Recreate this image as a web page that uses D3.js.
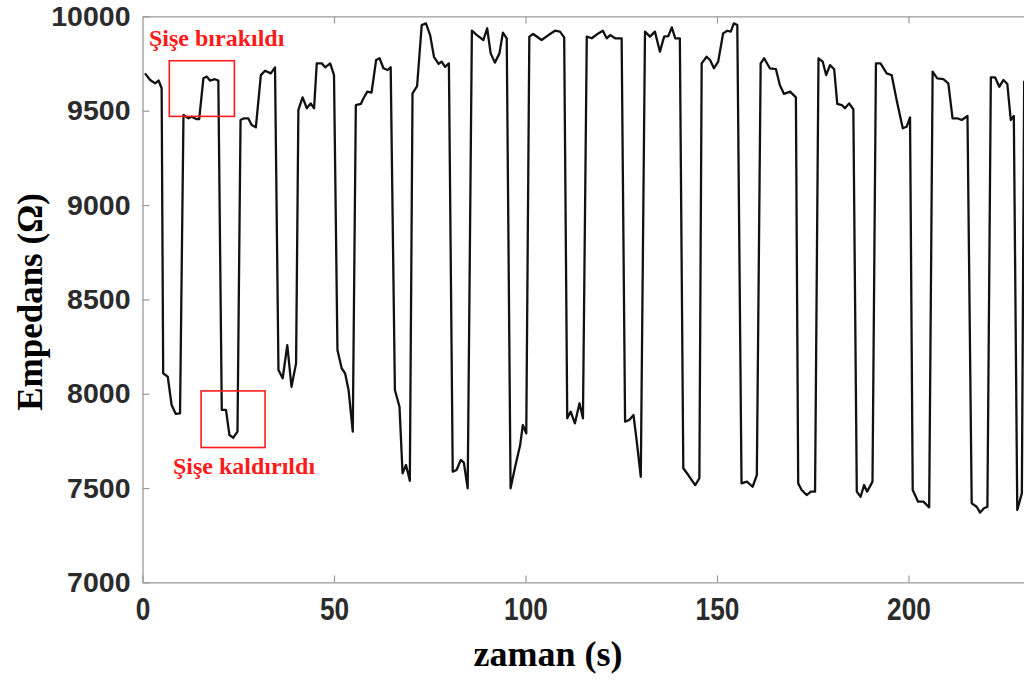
<!DOCTYPE html>
<html>
<head>
<meta charset="utf-8">
<script src="https://cdn.jsdelivr.net/npm/d3@7"></script>
<style>
  html, body { margin: 0; padding: 0; background: #fff; }
  svg { display: block; }
</style>
</head>
<body>
<svg id="chart" width="1024" height="682"></svg>
<script>
// ---- data ----
const time = [0.65, 2.0, 3.3, 4.2, 5.0, 5.4, 6.6, 7.6, 8.7, 9.8, 10.7, 12.0, 12.8, 14.2, 14.8, 15.9, 16.8, 17.6, 18.9, 19.8,
  20.7, 21.8, 22.7, 23.7, 24.8, 25.6, 26.5, 27.6, 28.5, 29.6, 30.9, 32.0, 33.5, 34.6, 35.5, 36.6, 37.8, 38.9, 40.1, 40.7,
  41.8, 42.9, 43.9, 44.8, 45.5, 46.8, 47.7, 49.0, 50.0, 50.9, 52.0, 52.9, 53.8, 54.9, 55.7, 57.0, 57.7, 58.7, 59.8, 61.0,
  61.9, 62.9, 64.0, 64.8, 65.9, 67.1, 67.9, 68.8, 69.8, 70.5, 71.7, 72.9, 74.0, 75.1, 76.1, 77.3, 78.1, 79.0, 80.0, 81.0,
  82.0, 83.1, 83.9, 84.9, 86.0, 87.3, 89.0, 90.0, 90.9, 92.0, 93.2, 94.1, 95.1, 96.1, 97.3, 98.6, 99.3, 100.2, 101.0, 102.0,
  104.2, 106.0, 107.7, 109.0, 110.1, 110.9, 111.8, 112.9, 114.1, 115.0, 116.0, 117.3, 119.0, 120.2, 121.2, 122.1, 123.4, 125.1, 126.0, 127.1,
  128.2, 129.0, 130.1, 131.2, 132.5, 133.8, 135.1, 136.2, 137.3, 138.2, 139.1, 140.3, 141.2, 142.5, 144.3, 145.4, 146.0, 147.3, 148.2, 149.2,
  150.3, 151.6, 152.7, 153.6, 154.4, 155.3, 156.4, 157.8, 159.3, 160.4, 161.4, 162.3, 163.8, 165.4, 166.4, 167.5, 169.1, 170.6, 171.2, 172.1,
  173.4, 174.5, 175.6, 176.5, 177.6, 178.5, 179.5, 180.6, 181.4, 182.6, 183.4, 184.5, 185.6, 186.5, 187.5, 188.4, 189.2, 190.6, 191.5, 192.7,
  194.3, 195.6, 196.9, 198.5, 199.5, 200.4, 201.1, 202.5, 203.9, 205.4, 206.3, 207.5, 209.1, 210.4, 211.5, 212.7, 213.9, 215.4, 216.5, 217.8,
  218.7, 219.7, 220.6, 221.5, 222.6, 223.7, 224.8, 225.8, 226.7, 227.5, 228.4, 229.6, 230.2, 231.0];
const impedance = [9698, 9663, 9645, 9660, 9619, 8108, 8090, 7940, 7893, 7896, 9477, 9460, 9468, 9455, 9455, 9672, 9681, 9660, 9667, 9660,
  7914, 7914, 7781, 7767, 7799, 9451, 9460, 9460, 9424, 9412, 9689, 9712, 9698, 9730, 8126, 8082, 8258, 8037, 8161, 9504,
  9571, 9513, 9539, 9513, 9751, 9751, 9730, 9751, 9689, 8232, 8135, 8108, 8020, 7799, 9530, 9536, 9566, 9601, 9596, 9769,
  9778, 9725, 9716, 9730, 8020, 7931, 7578, 7622, 7539, 9592, 9631, 9954, 9963, 9901, 9786, 9748, 9760, 9733, 9751, 7587,
  7596, 7649, 7635, 7499, 9924, 9901, 9875, 9937, 9804, 9755, 9804, 9914, 9884, 7499, 7613, 7728, 7834, 7790, 9893, 9907,
  9875, 9901, 9924, 9919, 9889, 7870, 7905, 7843, 7949, 7870, 9893, 9884, 9910, 9924, 9884, 9901, 9884, 9884, 7852, 7861,
  7887, 7755, 7560, 9919, 9893, 9919, 9813, 9893, 9896, 9942, 9884, 9884, 7605, 7569, 7516, 7552, 9751, 9786, 9769, 9725,
  9760, 9910, 9924, 9919, 9963, 9954, 7525, 7534, 7507, 7569, 9751, 9778, 9725, 9720, 9636, 9589, 9601, 9571, 7525, 7490,
  7463, 7481, 7481, 9778, 9760, 9689, 9742, 9720, 9536, 9530, 9513, 9539, 9508, 7481, 7454, 7516, 7481, 7534, 9751, 9751,
  9698, 9689, 9557, 9407, 9415, 9465, 7490, 7428, 7428, 7398, 9707, 9672, 9667, 9645, 9460, 9460, 9451, 9472, 7419, 7401,
  7370, 7393, 7401, 9677, 9677, 9627, 9663, 9642, 9451, 9472, 7384, 7473, 9654, 9660];
const xTicks = [0, 50, 100, 150, 200];
const yTicks = [7000, 7500, 8000, 8500, 9000, 9500, 10000];
const xDomain = [0, 250];
const yDomain = [7000, 10000];
const annotationTexts = ["Şişe bırakıldı", "Şişe kaldırıldı"];
const boxT0 = [7.0, 15.3];
const boxT1 = [24.0, 32.0];
const boxV0 = [9470, 7715];
const boxV1 = [9765, 8015];

// ---- layout ----
const svg = d3.select("#chart");
const plotLeft = 142.5, plotTop = 16.4, plotBottom = 582.4, pxPerSec = 3.83;
const x = d3.scaleLinear().domain(xDomain).range([plotLeft, plotLeft + (xDomain[1] - xDomain[0]) * pxPerSec]);
const y = d3.scaleLinear().domain(yDomain).range([plotBottom, plotTop]);
const axisColor = "#9a9a9a";
const labelColor = "#2b2b2b";

// data line
const line = d3.line().x((d, i) => x(time[i])).y(d => y(d));
svg.append("path")
  .datum(impedance)
  .attr("d", line)
  .attr("fill", "none")
  .attr("stroke", "#111")
  .attr("stroke-width", 2.3)
  .attr("stroke-linejoin", "round");

// axes
const gx = svg.append("g").attr("transform", `translate(0,${plotBottom})`)
  .call(d3.axisBottom(x).tickValues(xTicks).tickSizeInner(-7).tickSizeOuter(0).tickPadding(15).tickFormat(d3.format("d")));
const gTop = svg.append("g").attr("transform", `translate(0,${plotTop})`)
  .call(d3.axisTop(x).tickValues(xTicks.filter(d => d > 0)).tickSizeInner(-7).tickSizeOuter(0).tickFormat(""));
const gy = svg.append("g").attr("transform", `translate(${plotLeft},0)`)
  .call(d3.axisLeft(y).tickValues(yTicks).tickSizeInner(-7).tickSizeOuter(0).tickPadding(12).tickFormat(d3.format("d")));

[gx, gTop, gy].forEach(g => {
  g.select(".domain").attr("stroke", axisColor).attr("stroke-width", 1.3);
  g.selectAll(".tick line").attr("stroke", axisColor).attr("stroke-width", 1.2);
});

gx.selectAll(".tick text")
  .attr("fill", labelColor)
  .style("font-family", "'Liberation Sans', Arial, sans-serif")
  .style("font-weight", "bold")
  .style("font-size", "32px")
  .attr("transform", "scale(0.82,1)");

gy.selectAll(".tick text")
  .attr("fill", labelColor)
  .style("font-family", "'Liberation Sans', Arial, sans-serif")
  .style("font-weight", "bold")
  .style("font-size", "28.5px");

// axis titles
svg.append("text")
  .attr("transform", `translate(42,302) rotate(-90)`)
  .attr("text-anchor", "middle")
  .style("font-family", "'Liberation Serif', 'Times New Roman', serif")
  .style("font-weight", "bold")
  .style("font-size", "35px")
  .attr("fill", "#000")
  .text("Empedans (Ω)");

svg.append("text")
  .attr("x", 548).attr("y", 666)
  .attr("text-anchor", "middle")
  .style("font-family", "'Liberation Serif', 'Times New Roman', serif")
  .style("font-weight", "bold")
  .style("font-size", "36px")
  .attr("fill", "#000")
  .text("zaman (s)");

// annotations
boxT0.forEach((t0, i) => {
  svg.append("rect")
    .attr("x", x(t0)).attr("y", y(boxV1[i]))
    .attr("width", x(boxT1[i]) - x(t0)).attr("height", y(boxV0[i]) - y(boxV1[i]))
    .attr("fill", "none").attr("stroke", "#ff1a1a").attr("stroke-width", 1.6);
});
const textPos = [[149, 46], [173, 474]];
annotationTexts.forEach((t, i) => {
  svg.append("text")
    .attr("x", textPos[i][0]).attr("y", textPos[i][1])
    .style("font-family", "'Liberation Serif', 'Times New Roman', serif")
    .style("font-weight", "bold").style("font-size", "24px")
    .attr("fill", "#ff1a1a")
    .text(t);
});
</script>
</body>
</html>
